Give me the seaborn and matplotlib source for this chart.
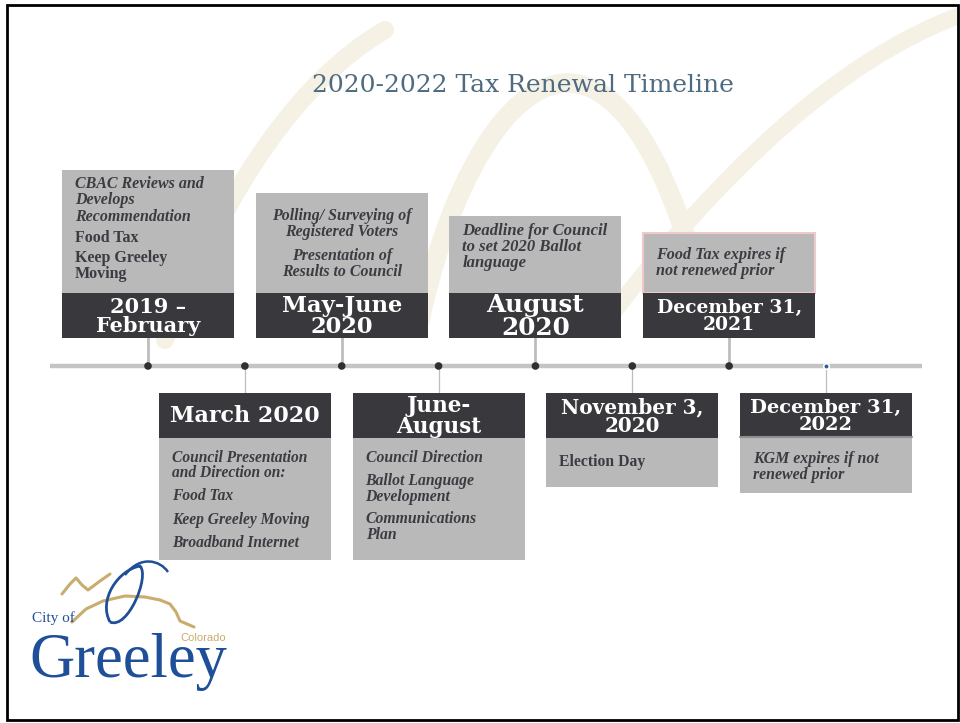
import matplotlib.pyplot as plt
import matplotlib.patches as mpatches
from matplotlib.path import Path
import numpy as np
import pandas as pd
import seaborn as sns

# slide content
title = "2020-2022 Tax Renewal Timeline"
dates = ["2019 –\nFebruary", "March 2020", "May-June\n2020", "June-\nAugust",
         "August\n2020", "November 3,\n2020", "December 31,\n2021", "December 31,\n2022"]
notes = [
    ["CBAC Reviews and\nDevelops\nRecommendation", "Food Tax", "Keep Greeley\nMoving"],
    ["Council Presentation\nand Direction on:", "Food Tax", "Keep Greeley Moving", "Broadband Internet"],
    ["Polling/ Surveying of\nRegistered Voters", "Presentation of\nResults to Council"],
    ["Council Direction", "Ballot Language\nDevelopment", "Communications\nPlan"],
    ["Deadline for Council\nto set 2020 Ballot\nlanguage"],
    ["Election Day"],
    ["Food Tax expires if\nnot renewed prior"],
    ["KGM expires if not\nrenewed prior"],
]
note_italic = [[True, False, False], [True, True, True, True], [True, True],
               [True, True, True], [True], [False], [True], [True]]

events = pd.DataFrame({"step": range(len(dates)), "date": dates})
events["side"] = np.where(events["step"] % 2 == 0, "up", "down")

# layout (pixels, y downwards)
W, H = 960, 723
UNIT = (826 - 148) / 7          # px per timeline step
X0 = -148 / UNIT
LINE_Y = 366
HEAD_H = 45
BOX_W = 172
body_h = [123, 122, 100, 122, 77, 49, 60, 55]
head_fs = [15, 16, 16.3, 15.5, 17.7, 14.4, 13.5, 14]
body_fs = [11.5, 11.2, 11.4, 11.3, 12, 11.3, 11.6, 11.4]
line_step = [16.5, 15.2, 15.5, 15.8, 15.8, 15, 16, 15.8]
para_gap = [4, 8, 9, 7, 0, 0, 0, 0]
top_pad = [6, 12, 15, 12, 7, 16, 14, 13]

DARK = "#38383d"
GREY = "#b9b9b9"
TXT = "#3b3b42"

def px(p):
    return p / UNIT

def pts(seq):
    return [(X0 + px(x), y) for x, y in seq]

sns.set_theme(style="white")
plt.rcParams["font.family"] = ["DejaVu Serif", "DejaVu Sans"]

fig = plt.figure(figsize=(9.6, 7.23), dpi=100)
ax = fig.add_axes([0, 0, 1, 1])
ax.set_xlim(X0, X0 + px(W))
ax.set_ylim(H, 0)
ax.axis("off")

# faint beige swoosh watermark
beige = "#f5f1e5"
for verts, lw in [
    ([(165, 340), (230, 180), (300, 80), (385, 30)], 13),
    ([(420, 320), (470, 90), (600, -40), (690, 250)], 14),
    ([(600, 330), (720, 170), (840, 60), (958, 16)], 12),
]:
    path = Path(pts(verts), [Path.MOVETO, Path.CURVE4, Path.CURVE4, Path.CURVE4])
    ax.add_patch(mpatches.PathPatch(path, fill=False, lw=lw, color=beige,
                                    capstyle="round", zorder=0))

# slide border
ax.add_patch(mpatches.Rectangle((X0 + px(7), 5), px(951), 715, fill=False,
                                lw=2, ec="black", zorder=1))

ax.text(X0 + px(523), 85, title, fontsize=18, color="#4e6b80",
        ha="center", va="center", family="DejaVu Serif")

# timeline
ax.plot([X0 + px(50), X0 + px(922)], [LINE_Y, LINE_Y], color="#c4c4c4",
        lw=3.2, solid_capstyle="butt", zorder=2)

for i, row in events.iterrows():
    s = row["step"]
    left = s - px(BOX_W / 2)
    if row["side"] == "up":
        head_top = 293
        body_top = head_top - body_h[i]
        ax.plot([s, s], [head_top + HEAD_H, LINE_Y], color="#bdbdbd", lw=2, zorder=2)
    else:
        head_top = 393
        body_top = head_top + HEAD_H
        ax.plot([s, s], [LINE_Y, head_top], color="#bdbdbd", lw=0.9, zorder=2)

    ec = "#f0caca" if i == 6 else "none"
    ax.add_patch(mpatches.Rectangle((left, body_top), px(BOX_W), body_h[i],
                                    fc=GREY, ec=ec, lw=1.5, zorder=3))
    ax.add_patch(mpatches.Rectangle((left, head_top), px(BOX_W), HEAD_H,
                                    fc=DARK, ec="none", zorder=4))
    if i == 7:
        ax.plot([left, left + px(BOX_W)], [head_top + HEAD_H - 1, head_top + HEAD_H - 1],
                color="#8e8e8e", lw=1.5, zorder=4)
    ax.text(s, head_top + HEAD_H / 2 + 1, row["date"], fontsize=head_fs[i],
            weight="bold", color="white", ha="center", va="center",
            linespacing=0.92, family="DejaVu Serif", zorder=5)

    # body text
    centered = i == 2
    tx = s if centered else left + px(13)
    y = body_top + top_pad[i]
    for para, ital in zip(notes[i], note_italic[i]):
        for line in para.split("\n"):
            ax.text(tx, y, line, fontsize=body_fs[i], weight="bold",
                    style="italic" if ital else "normal", color=TXT,
                    ha="center" if centered else "left", va="top",
                    family="Liberation Serif", zorder=5)
            y += line_step[i]
        y += para_gap[i]

# dots on the line
sns.scatterplot(x=events["step"].iloc[:-1], y=np.full(len(events) - 1, LINE_Y),
                color="#2f2f34", s=30, marker="o", edgecolor="none", ax=ax, zorder=6)
sns.scatterplot(x=events["step"].iloc[-1:], y=[LINE_Y], color="#2d5b9a", s=16,
                marker="o", edgecolor="white", linewidth=1.2, ax=ax, zorder=6)

# City of Greeley logo
gold = "#c8ad6e"
blue = "#1f4f98"
ax.plot(*zip(*pts([(62, 594), (70, 584), (76, 578), (82, 585), (88, 590),
                   (100, 581), (110, 574)])), color=gold, lw=2.2, zorder=2)
ax.plot(*zip(*pts([(72, 622), (86, 609), (103, 601), (125, 596), (145, 597),
                   (160, 600), (170, 604), (176, 612), (180, 621), (194, 627)])),
        color=gold, lw=2.2, zorder=2)
hat = Path(pts([(110, 622), (98, 600), (118, 570), (140, 566),
                (150, 576), (128, 630), (110, 622)]),
           [Path.MOVETO, Path.CURVE4, Path.CURVE4, Path.CURVE4,
            Path.CURVE4, Path.CURVE4, Path.CURVE4])
ax.add_patch(mpatches.PathPatch(hat, fill=False, lw=2, color=blue, zorder=2))
brim = Path(pts([(125, 575), (140, 555), (160, 560), (168, 572)]),
            [Path.MOVETO, Path.CURVE4, Path.CURVE4, Path.CURVE4])
ax.add_patch(mpatches.PathPatch(brim, fill=False, lw=1.8, color=blue, zorder=2))
ax.text(X0 + px(32), 622, "City of", fontsize=11, color=blue,
        family="Liberation Serif", va="baseline", zorder=3)
ax.text(X0 + px(180), 641, "Colorado", fontsize=8, color=gold,
        family="Liberation Sans", va="baseline", zorder=3)
ax.text(X0 + px(29), 677, "Greeley", fontsize=45, color=blue,
        family="Liberation Serif", va="baseline", zorder=3)

fig.savefig("out.png", dpi=100)
